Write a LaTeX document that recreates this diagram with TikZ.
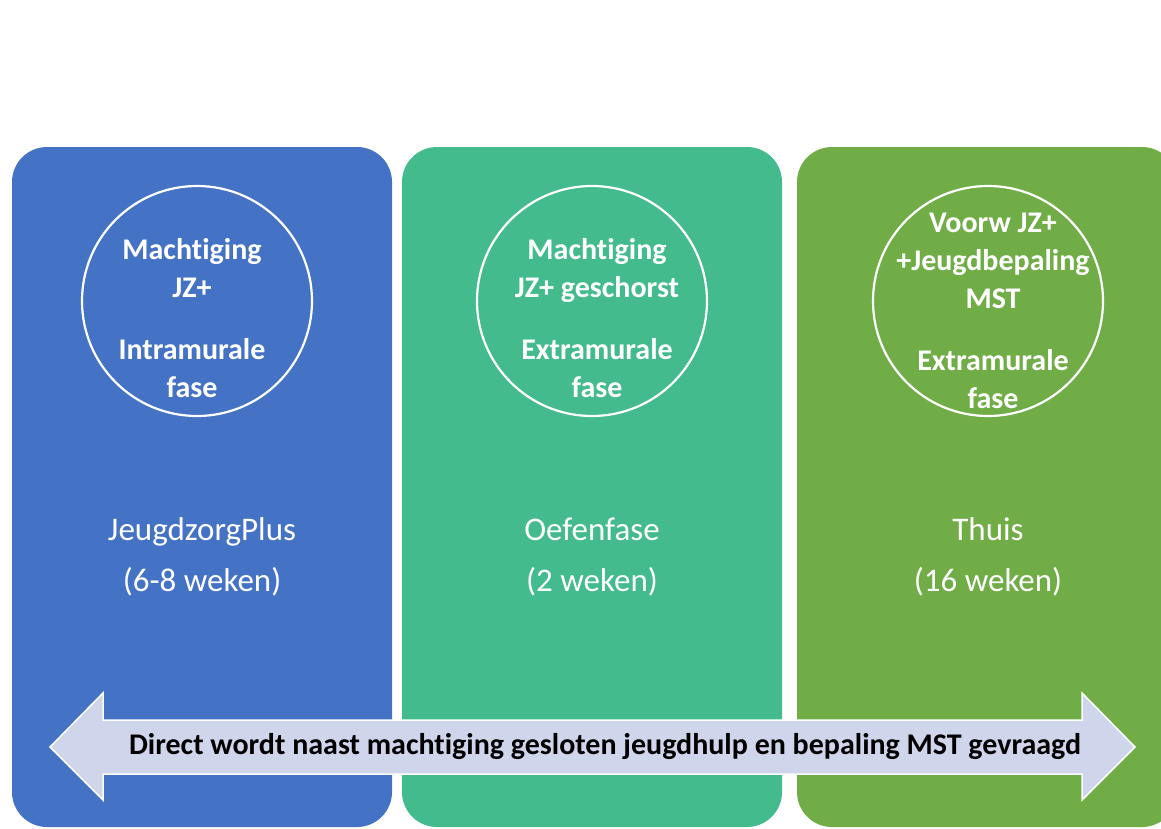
\documentclass[tikz,border=0pt]{standalone}
\usepackage{fontspec}
\setmainfont[Ligatures={NoCommon}]{Carlito}
\begin{document}
\begin{tikzpicture}[x=1pt,y=-1pt,
  panel/.style={rectangle,rounded corners=35pt,minimum width=380pt,minimum height=680pt,inner sep=0pt,draw=none},
  ring/.style={circle,draw=white,line width=2.2pt,minimum size=230pt,inner sep=0pt},
  ctext/.style={text=white,font=\fontsize{30}{38}\selectfont\bfseries,align=center},
  ltext/.style={text=white,font=\fontsize{33}{51}\selectfont,align=center},
  arrowfill/.style={fill=arrowc,draw=white,line width=1.5pt}]
\definecolor{bluec}{HTML}{4472C4}
\definecolor{tealc}{HTML}{43BB8D}
\definecolor{greenc}{HTML}{70AD47}
\definecolor{arrowc}{HTML}{CFD5EA}
\useasboundingbox (0,0) rectangle (1161,828);
\clip (0,0) rectangle (1161,828);
\fill[white] (0,0) rectangle (1161,828);
\node[panel,fill=bluec] (p1) at (202,487) {};
\node[panel,fill=tealc] (p2) at (592,487) {};
\node[panel,fill=greenc] (p3) at (987,487) {};
\node[ring] (c1) at (197,301) {};
\node[ring] (c2) at (592,301) {};
\node[ring] (c3) at (988,301) {};
\node[ctext] (t1) at (192,318) {Machtiging\\JZ+\\[24pt]Intramurale\\fase};
\node[ctext] (t2) at (597,318) {Machtiging\\JZ+ geschorst\\[24pt]Extramurale\\fase};
\node[ctext] (t3) at (993,311) {Voorw JZ+\\+Jeugdbepaling\\MST\\[24pt]Extramurale\\fase};
\node[ltext] (l1) at (202,557) {JeugdzorgPlus\\(6-8 weken)};
\node[ltext] (l2) at (592,557) {Oefenfase\\(2 weken)};
\node[ltext] (l3) at (988,557) {Thuis\\(16 weken)};
\draw[arrowfill] (50,747) -- (103,693) -- (103,720) -- (1082,720) -- (1082,693) -- (1135,747) -- (1082,800) -- (1082,774) -- (103,774) -- (103,800) -- cycle;
\node[font=\fontsize{30}{34}\selectfont\bfseries,text=black] (at) at (605,747) {Direct wordt naast machtiging gesloten jeugdhulp en bepaling MST gevraagd};
\end{tikzpicture}
\end{document}
